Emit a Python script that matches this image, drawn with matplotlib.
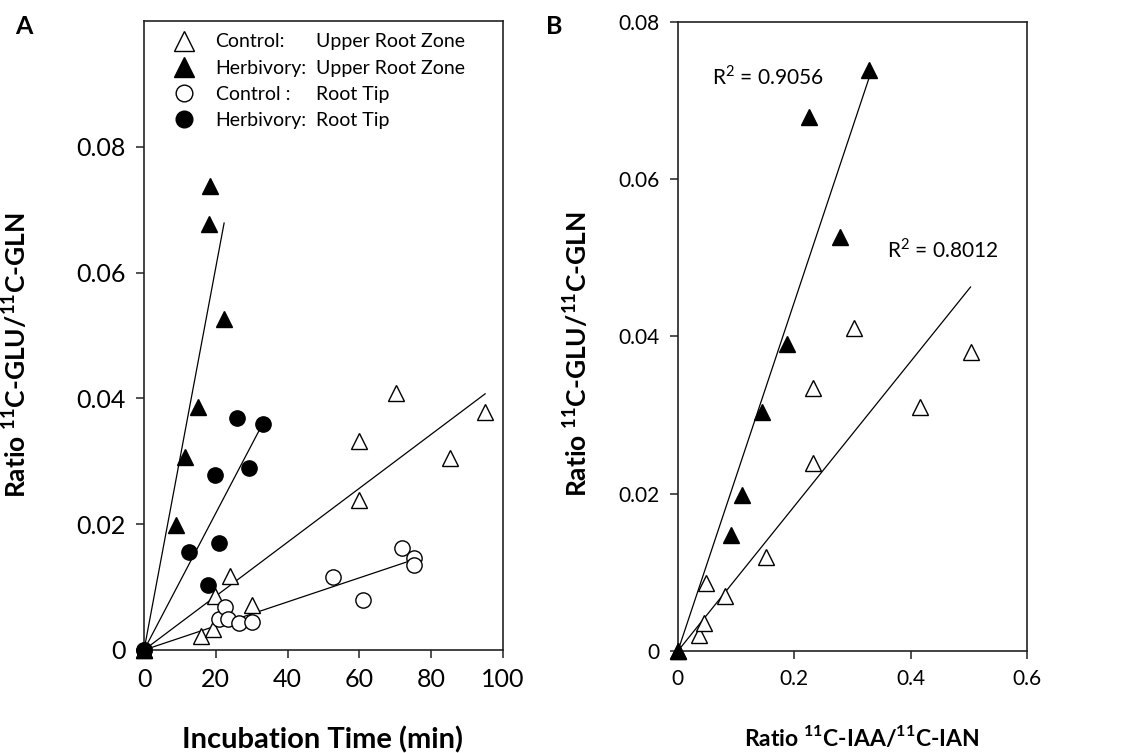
import matplotlib
matplotlib.use("Agg")
import matplotlib.pyplot as plt
from matplotlib.lines import Line2D
import numpy as np

plt.rcParams['font.family'] = ['Lato', 'DejaVu Sans']
plt.rcParams['mathtext.fontset'] = 'custom'
plt.rcParams['mathtext.rm'] = 'Lato'
plt.rcParams['mathtext.bf'] = 'Lato:bold'

# ---- panel A data: incubation time (min) vs ratio 11C-GLU/11C-GLN ----
ctrl_upper_t = [0, 15.9, 19.3, 19.8, 24.0, 30.0, 59.9, 59.9, 70.2, 85.2, 95.0]
ctrl_upper_r = [0, 0.0022, 0.0033, 0.0086, 0.0117, 0.0071, 0.0238, 0.0332, 0.0408, 0.0306, 0.0378]

herb_upper_t = [0, 8.8, 11.4, 15.1, 18.1, 18.4, 22.3]
herb_upper_r = [0, 0.0198, 0.0307, 0.0387, 0.0678, 0.0737, 0.0527]

ctrl_tip_t = [0, 20.9, 22.6, 23.4, 26.5, 30.0, 52.6, 61.1, 71.9, 75.2, 75.2]
ctrl_tip_r = [0, 0.0049, 0.0068, 0.0049, 0.0043, 0.0044, 0.0116, 0.0079, 0.0162, 0.0146, 0.0135]

herb_tip_t = [0, 12.5, 17.9, 19.8, 20.9, 26.0, 29.1, 33.2]
herb_tip_r = [0, 0.0156, 0.0103, 0.0279, 0.0170, 0.0369, 0.0289, 0.0359]

# ---- panel B data: ratio 11C-IAA/11C-IAN vs ratio 11C-GLU/11C-GLN ----
ctrl_iaa = [0, 0.036, 0.045, 0.048, 0.081, 0.152, 0.233, 0.233, 0.302, 0.416, 0.503]
ctrl_glu = [0, 0.0020, 0.0036, 0.0087, 0.0070, 0.0120, 0.0239, 0.0335, 0.0411, 0.0310, 0.0380]

herb_iaa = [0, 0.091, 0.110, 0.145, 0.188, 0.226, 0.279, 0.329]
herb_glu = [0, 0.0148, 0.0198, 0.0304, 0.0390, 0.0679, 0.0527, 0.0739]

r2_herb = r"R$^2$ = 0.9056"
r2_ctrl = r"R$^2$ = 0.8012"

ylab = r"Ratio $^{\mathbf{11}}$C-GLU/$^{\mathbf{11}}$C-GLN"


def fit_origin(x, y):
    # linear trend forced through the origin
    x = np.asarray(x)
    y = np.asarray(y)
    return (x * y).sum() / (x * x).sum()


def trend(ax, x, y):
    k = fit_origin(x, y)
    xm = max(x)
    ax.plot([0, xm], [0, k * xm], color='black', lw=0.9, zorder=2)


def style_axes(ax):
    for s in ax.spines.values():
        s.set_linewidth(1.2)
        s.set_color('#222222')
    ax.tick_params(direction='out', length=6, width=1.1, color='#222222')


fig = plt.figure(figsize=(11.28, 7.53), dpi=100)
axA = fig.add_axes([0.1277, 0.1368, 0.3183, 0.8353])
axB = fig.add_axes([0.601, 0.1355, 0.3094, 0.8353])

tri = dict(marker='^', ms=12, mec='black', mew=1.0, ls='none', clip_on=False, zorder=3)
circ = dict(marker='o', ms=11, mec='black', mew=1.0, ls='none', clip_on=False, zorder=3)

# panel A
trend(axA, ctrl_upper_t, ctrl_upper_r)
trend(axA, herb_upper_t, herb_upper_r)
trend(axA, ctrl_tip_t, ctrl_tip_r)
trend(axA, herb_tip_t, herb_tip_r)
axA.plot(ctrl_upper_t, ctrl_upper_r, mfc='white', **tri)
axA.plot(ctrl_tip_t, ctrl_tip_r, mfc='white', **circ)
axA.plot(herb_tip_t, herb_tip_r, mfc='black', **circ)
axA.plot(herb_upper_t, herb_upper_r, mfc='black', **tri)

axA.set_xlim(0, 100)
axA.set_ylim(0, 0.1)
axA.set_xticks([0, 20, 40, 60, 80, 100])
axA.set_yticks([0, 0.02, 0.04, 0.06, 0.08])
axA.set_yticklabels(['0', '0.02', '0.04', '0.06', '0.08'])
axA.tick_params(labelsize=18, pad=7)
style_axes(axA)
axA.set_xlabel("Incubation Time (min)", fontsize=21, fontweight='bold')
axA.xaxis.set_label_coords(0.497, -0.122)
axA.set_ylabel(ylab, fontsize=19, fontweight='bold')
axA.yaxis.set_label_coords(-0.318, 0.469)

handles = [
    Line2D([], [], marker='^', ms=14, mfc='white', mec='black', ls='none'),
    Line2D([], [], marker='^', ms=14, mfc='black', mec='black', ls='none'),
    Line2D([], [], marker='o', ms=12, mfc='white', mec='black', ls='none'),
    Line2D([], [], marker='o', ms=12, mfc='black', mec='black', ls='none'),
]
col1 = ["Control:", "Herbivory:", "Control :", "Herbivory:"]
col2 = ["Upper Root Zone", "Upper Root Zone", "Root Tip", "Root Tip"]
leg = axA.legend(handles, col1, loc='upper left', bbox_to_anchor=(0.042, 1.002),
                 frameon=False, fontsize=14, handlelength=1.2, handletextpad=1.0,
                 labelspacing=0.47, borderpad=0.2)

# panel B
trend(axB, ctrl_iaa, ctrl_glu)
trend(axB, herb_iaa, herb_glu)
axB.plot(ctrl_iaa, ctrl_glu, mfc='white', **tri)
axB.plot(herb_iaa, herb_glu, mfc='black', **tri)
axB.set_xlim(0, 0.6)
axB.set_ylim(0, 0.08)
axB.set_xticks([0, 0.2, 0.4, 0.6])
axB.set_xticklabels(['0', '0.2', '0.4', '0.6'])
axB.set_yticks([0, 0.02, 0.04, 0.06, 0.08])
axB.set_yticklabels(['0', '0.02', '0.04', '0.06', '0.08'])
axB.tick_params(labelsize=15, pad=7)
style_axes(axB)
axB.set_xlabel(r"Ratio $^{\mathbf{11}}$C-IAA/$^{\mathbf{11}}$C-IAN", fontsize=16.5, fontweight='bold')
axB.xaxis.set_label_coords(0.526, -0.116)
axB.set_ylabel(ylab, fontsize=19, fontweight='bold')
axB.yaxis.set_label_coords(-0.249, 0.472)
axB.text(0.059, 0.073, r2_herb, fontsize=15, va='center', ha='left')
axB.text(0.359, 0.051, r2_ctrl, fontsize=15, va='center', ha='left')

fig.text(24 / 1128, 1 - 27 / 753, "A", fontsize=18, fontweight='bold', ha='center', va='center')
fig.text(554 / 1128, 1 - 26 / 753, "B", fontsize=18, fontweight='bold', ha='center', va='center')

# second legend column, aligned with the legend rows
fig.canvas.draw()
inv = fig.transFigure.inverted()
for t, s in zip(leg.get_texts(), col2):
    bb = t.get_window_extent()
    yc = (bb.y0 + bb.y1) / 2
    xf, yf = inv.transform((316, yc))
    fig.text(xf, yf, s, fontsize=14, va='center', ha='left')

fig.savefig("out.png", dpi=100)
